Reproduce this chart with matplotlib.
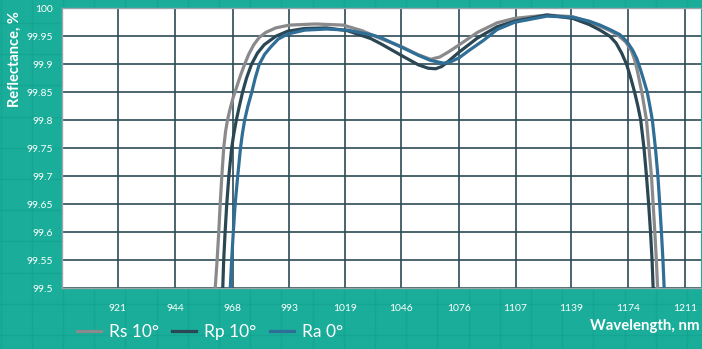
import numpy as np
import matplotlib.pyplot as plt
from matplotlib.lines import Line2D

# readings taken off the reference chart (wavelength nm, reflectance %)
wl_rs = [959.8, 960.6, 961.4, 962.1, 962.7, 963.4, 964.2, 965.0, 965.8, 966.9, 968.2, 969.8,
         971.4, 973.2, 975.0, 977.2, 979.6, 982.5, 986.9, 993.0, 1005.0, 1018.0, 1027.0,
         1036.0, 1046.8, 1055.0, 1061.2, 1066.0, 1071.0, 1075.9, 1086.0, 1096.7, 1106.4,
         1124.9, 1140.1, 1150.0, 1156.6, 1162.7, 1168.0, 1172.5, 1176.0, 1178.0, 1179.8,
         1181.3, 1182.8, 1184.3, 1185.8, 1187.4, 1189.0, 1190.1, 1191.2, 1192.2, 1193.0, 1193.6]
r_rs = [99.45, 99.5, 99.55, 99.6, 99.65, 99.7, 99.75, 99.78, 99.8, 99.82, 99.84, 99.86,
        99.88, 99.9, 99.918, 99.935, 99.948, 99.957, 99.965, 99.970, 99.972, 99.970, 99.960,
        99.946, 99.931, 99.917, 99.909, 99.913, 99.923, 99.934, 99.957, 99.974, 99.982,
        99.988, 99.985, 99.976, 99.968, 99.960, 99.951, 99.94, 99.925, 99.91, 99.89,
        99.87, 99.85, 99.825, 99.8, 99.75, 99.7, 99.65, 99.6, 99.55, 99.5, 99.45]

wl_rp = [963.0, 963.8, 964.2, 964.8, 965.5, 966.4, 967.6, 968.5, 969.6, 970.9, 972.3, 974.0,
         976.2, 978.8, 981.8, 986.9, 992.2, 1000.0, 1010.0, 1020.0, 1031.2, 1036.0, 1046.8,
         1055.0, 1060.0, 1063.8, 1067.0, 1070.0, 1075.9, 1086.0, 1096.7, 1106.4, 1124.9,
         1140.1, 1150.0, 1156.6, 1162.7, 1166.5, 1170.0, 1173.1, 1175.8, 1178.2, 1180.3,
         1182.1, 1184.2, 1185.8, 1187.2, 1188.4, 1189.4, 1190.1, 1190.7]
r_rp = [99.45, 99.5, 99.55, 99.6, 99.65, 99.7, 99.75, 99.775, 99.8, 99.825, 99.85, 99.875,
        99.9, 99.92, 99.935, 99.95, 99.959, 99.964, 99.965, 99.960, 99.946, 99.937, 99.915,
        99.899, 99.893, 99.892, 99.896, 99.904, 99.921, 99.947, 99.967, 99.977, 99.988,
        99.982, 99.971, 99.961, 99.950, 99.938, 99.92, 99.9, 99.875, 99.85, 99.825,
        99.8, 99.75, 99.7, 99.65, 99.6, 99.55, 99.5, 99.45]

wl_ra = [966.3, 967.0, 967.6, 968.3, 969.1, 970.2, 971.4, 972.2, 973.2, 974.6, 976.3, 977.8,
         979.6, 982.0, 984.7, 988.0, 992.2, 1000.0, 1010.0, 1020.0, 1031.2, 1036.0, 1046.8,
         1055.0, 1061.2, 1068.1, 1072.0, 1075.9, 1082.0, 1089.4, 1096.7, 1106.4, 1124.9,
         1140.1, 1150.0, 1156.6, 1162.7, 1168.9, 1173.5, 1177.0, 1179.6, 1182.0, 1184.2,
         1186.3, 1188.0, 1189.6, 1191.6, 1193.2, 1194.4, 1195.5, 1196.5, 1197.3, 1197.9]
r_ra = [99.45, 99.5, 99.55, 99.6, 99.65, 99.7, 99.75, 99.775, 99.8, 99.825, 99.85, 99.875,
        99.9, 99.918, 99.931, 99.945, 99.954, 99.961, 99.963, 99.961, 99.953, 99.948, 99.930,
        99.916, 99.907, 99.902, 99.905, 99.911, 99.926, 99.943, 99.962, 99.975, 99.986,
        99.984, 99.977, 99.970, 99.962, 99.953, 99.94, 99.925, 99.91, 99.89, 99.87,
        99.85, 99.825, 99.8, 99.75, 99.7, 99.65, 99.6, 99.55, 99.5, 99.45]

x_ticks = [921, 944, 968, 993, 1019, 1046, 1076, 1107, 1139, 1174, 1211]
y_ticks = [99.5, 99.55, 99.6, 99.65, 99.7, 99.75, 99.8, 99.85, 99.9, 99.95, 100]
labels = ["Rs 10°", "Rp 10°", "Ra 0°"]
colors = ["#8a8a8c", "#2a4753", "#2f6e96"]

teal = "#19ad9a"
grid_col = "#2c4a56"
plt.rcParams["font.family"] = ["Lato", "DejaVu Sans"]


# the wavelength axis is evenly spaced in 1/lambda
def fwd(x):
    x = np.asarray(x, dtype=float)
    with np.errstate(divide="ignore", invalid="ignore"):
        return -1000.0 / x


def inv(u):
    u = np.asarray(u, dtype=float)
    with np.errstate(divide="ignore", invalid="ignore"):
        return -1000.0 / u


fig = plt.figure(figsize=(7.02, 3.49), dpi=100, facecolor=teal)

# faint squares in the background
for xp in np.arange(0.5, 702, 31.2):
    fig.add_artist(Line2D([xp / 702, xp / 702], [0, 1], transform=fig.transFigure,
                          color="#129a88", lw=1, alpha=0.4, zorder=0))
for yp in np.arange(335 - 31.2 * 11, 349, 31.2):
    fig.add_artist(Line2D([0, 1], [1 - yp / 349, 1 - yp / 349], transform=fig.transFigure,
                          color="#129a88", lw=1, alpha=0.4, zorder=0))

ax = fig.add_axes([62.3 / 702, 1 - 288.3 / 349, (701 - 62.3) / 702, (288.3 - 8.3) / 349])
ax.set_facecolor("white")
ax.set_xscale("function", functions=(fwd, inv))
ax.set_xlim(900, 1222)
ax.set_ylim(99.5, 100)

for wl, r, c, lab in zip([wl_rs, wl_rp, wl_ra], [r_rs, r_rp, r_ra], colors, labels):
    ax.plot(wl, r, color=c, lw=2.3, label=lab, solid_joinstyle="round", zorder=3)

ax.set_xticks(x_ticks)
ax.set_xticklabels([str(t) for t in x_ticks])
ax.set_yticks(y_ticks)
ax.set_yticklabels(["%g" % t for t in y_ticks])
ax.minorticks_off()
ax.grid(True, color=grid_col, lw=1.2, zorder=1)
ax.set_axisbelow(True)
ax.tick_params(length=0, colors="white", labelsize=7.5)
ax.tick_params(axis="x", pad=11)
ax.tick_params(axis="y", pad=7)
for s in ax.spines.values():
    s.set_color("#9aa6aa")
    s.set_linewidth(1)
ax.spines["right"].set_visible(False)

fig.text(15 / 702, 1 - 59 / 349, "Reflectance, %", rotation=90, color="white",
         fontweight="bold", fontsize=10.5, ha="center", va="center")
fig.text(700 / 702, 1 - 326 / 349, "Wavelength, nm", color="white",
         fontweight="bold", fontsize=10.8, ha="right", va="center")

leg = fig.legend(loc="center left", bbox_to_anchor=(77 / 702, 1 - 331.7 / 349),
                 ncol=3, frameon=False, fontsize=12.5, handlelength=1.4,
                 handletextpad=0.45, columnspacing=0.75, borderpad=0, borderaxespad=0)
for t in leg.get_texts():
    t.set_color("white")
for h in leg.get_lines():
    h.set_linewidth(2.3)

fig.savefig("out.png", dpi=100, facecolor=teal)
